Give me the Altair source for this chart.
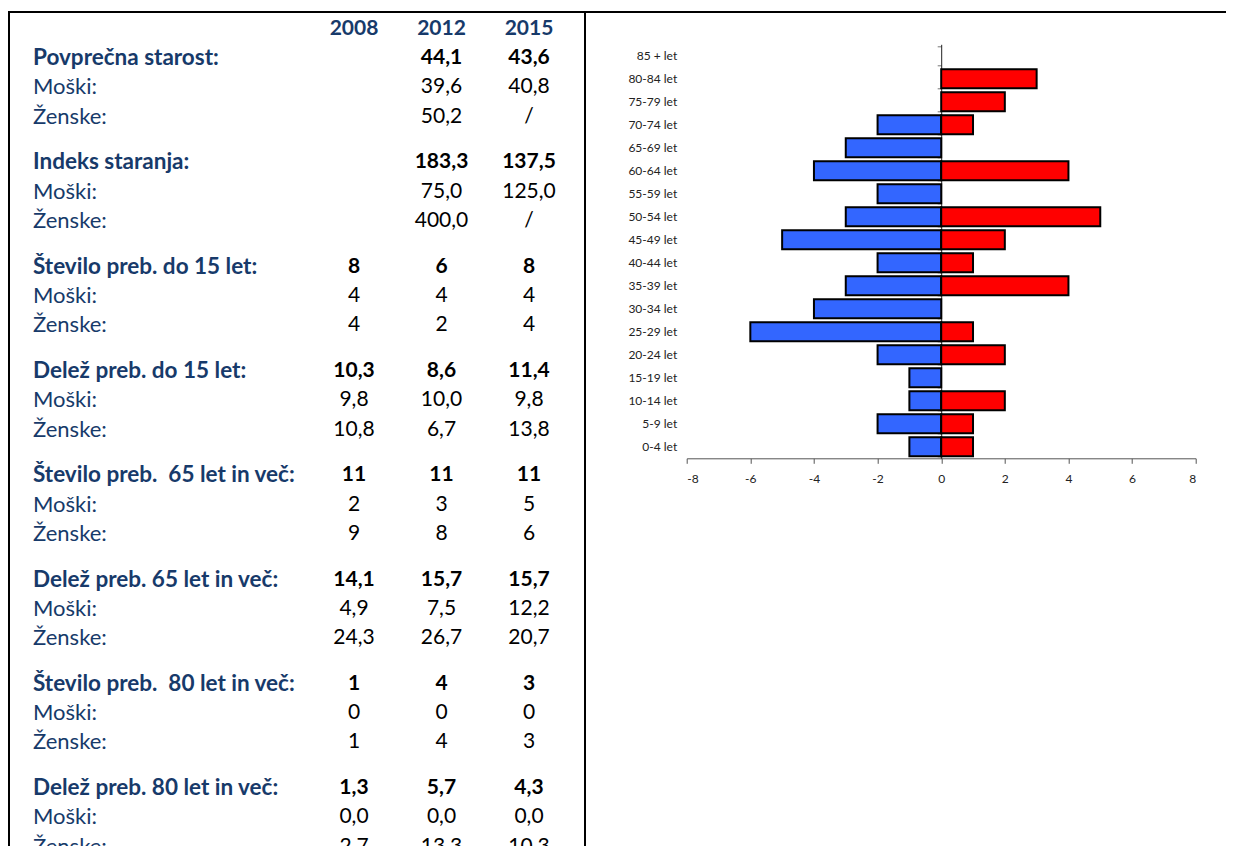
import altair as alt
import pandas as pd

# ---------------- table data ----------------
years = ["2008", "2012", "2015"]
group_titles = [
    "Povprečna starost:",
    "Indeks staranja:",
    "Število preb. do 15 let:",
    "Delež preb. do 15 let:",
    "Število preb.\u00a0 65 let in več:",
    "Delež preb. 65 let in več:",
    "Število preb.\u00a0 80 let in več:",
    "Delež preb. 80 let in več:",
]
sub_labels = ["Moški:", "Ženske:"]

v2008 = ["", "", "", "", "", "", "8", "4", "4", "10,3", "9,8", "10,8",
         "11", "2", "9", "14,1", "4,9", "24,3", "1", "0", "1", "1,3", "0,0", "2,7"]
v2012 = ["44,1", "39,6", "50,2", "183,3", "75,0", "400,0", "6", "4", "2", "8,6", "10,0", "6,7",
         "11", "3", "8", "15,7", "7,5", "26,7", "4", "0", "4", "5,7", "0,0", "13,3"]
v2015 = ["43,6", "40,8", "/", "137,5", "125,0", "/", "8", "4", "4", "11,4", "9,8", "13,8",
         "11", "5", "6", "15,7", "12,2", "20,7", "3", "0", "3", "4,3", "0,0", "10,3"]

# ---------------- pyramid data ----------------
ages = ["0-4 let", "5-9 let", "10-14 let", "15-19 let", "20-24 let", "25-29 let",
        "30-34 let", "35-39 let", "40-44 let", "45-49 let", "50-54 let", "55-59 let",
        "60-64 let", "65-69 let", "70-74 let", "75-79 let", "80-84 let", "85 + let"]
men = [1, 2, 1, 1, 2, 6, 4, 3, 2, 5, 3, 2, 4, 3, 2, 0, 0, 0]
women = [1, 1, 2, 0, 2, 1, 0, 4, 1, 2, 5, 0, 4, 0, 1, 2, 3, 0]

# ---------------- build tables ----------------
GROUP_STEP = 3.56  # rows per group incl. spacer row
label_rows, cell_rows = [], []
for g, title in enumerate(group_titles):
    for r in range(3):
        pos = g * GROUP_STEP + r
        label_rows.append({"label": title if r == 0 else sub_labels[r - 1],
                           "bold": r == 0, "pos": pos})
        i = g * 3 + r
        for yr, vals in zip(years, (v2008, v2012, v2015)):
            if vals[i] != "":
                cell_rows.append({"year": yr, "value": vals[i], "bold": r == 0, "pos": pos})
label_df = pd.DataFrame(label_rows)
cell_df = pd.DataFrame(cell_rows)
header_df = pd.DataFrame({"year": years, "pos": [-1] * len(years)})

pyr_rows = []
for a, m, w in zip(ages, men, women):
    pyr_rows.append({"age": a, "sex": "Moški", "count": m, "value": -m})
    pyr_rows.append({"age": a, "sex": "Ženske", "count": w, "value": w})
pyr_df = pd.DataFrame(pyr_rows)

BLUE = "#173A6A"
FONT = "Lato"
FS = 21

y_tab = alt.Y("pos:Q", scale=alt.Scale(domain=[-1, 27], range=[-15.6, 804.8], zero=False, nice=False), axis=None)
x_yr = alt.X("year:N", scale=alt.Scale(type="point", domain=years, range=[-332.7, -157.7], padding=0), axis=None)

lab_bold = alt.Chart(label_df).transform_filter("datum.bold").mark_text(
    align="left", baseline="middle", font=FONT, fontSize=22.5, fontWeight="bold", color=BLUE
).encode(x=alt.value(-653.7), y=y_tab, text="label:N")
lab_reg = alt.Chart(label_df).transform_filter("!datum.bold").mark_text(
    align="left", baseline="middle", font=FONT, fontSize=22, color=BLUE
).encode(x=alt.value(-653.7), y=y_tab, text="label:N")
num_bold = alt.Chart(cell_df).transform_filter("datum.bold").mark_text(
    align="center", baseline="middle", font=FONT, fontSize=FS, fontWeight="bold", color="#000"
).encode(x=x_yr, y=y_tab, text="value:N")
num_reg = alt.Chart(cell_df).transform_filter("!datum.bold").mark_text(
    align="center", baseline="middle", font=FONT, fontSize=FS, color="#000"
).encode(x=x_yr, y=y_tab, text="value:N")
header = alt.Chart(header_df).mark_text(
    align="center", baseline="middle", font=FONT, fontSize=FS, fontWeight="bold", color=BLUE
).encode(x=x_yr, y=y_tab, text="year:N")

one = alt.Data(values=[{}])
left_border = alt.Chart(one).mark_rule(color="black", strokeWidth=2).encode(
    x=alt.value(-677.7), y=alt.value(-32.3), y2=alt.value(900))
top_border = alt.Chart(one).mark_rule(color="black", strokeWidth=2).encode(
    x=alt.value(-678.7), x2=alt.value(545), y=alt.value(-32.3))
divider = alt.Chart(one).mark_rule(color="black", strokeWidth=2).encode(
    x=alt.value(-101.7), y=alt.value(-32.3), y2=alt.value(900))

ages_top_down = ages[::-1]
x_scale = alt.Scale(domain=[-8, 8], nice=False)
y_scale = alt.Scale(domain=ages_top_down, paddingInner=0.17, paddingOuter=0.085)

bars = alt.Chart(pyr_df).transform_filter("datum.count > 0").mark_bar(
    stroke="black", strokeWidth=2
).encode(
    x=alt.X("value:Q", scale=x_scale,
            axis=alt.Axis(values=list(range(-8, 9, 2)), grid=False, title=None, tickSize=5,
                          labelExpr="'' + datum.value", labelFontSize=12, labelFont=FONT,
                          labelColor="#222", domainColor="#555", tickColor="#555", labelPadding=10)),
    x2=alt.datum(0),
    y=alt.Y("age:N", scale=y_scale,
            axis=alt.Axis(orient="left", title=None, ticks=False, domain=False, labelPadding=10,
                          labelFontSize=12, labelFont=FONT, labelColor="#222")),
    color=alt.Color("sex:N", scale=alt.Scale(domain=["Moški", "Ženske"], range=["#3366FF", "#FF0000"]),
                    legend=None),
)

zero_axis = alt.Chart(pyr_df).mark_bar(opacity=0).encode(
    x=alt.X("value:Q", scale=x_scale, axis=None),
    x2=alt.datum(0),
    y=alt.Y("age:N", scale=y_scale,
            axis=alt.Axis(orient="left", offset=-254.5, labels=False, ticks=True, tickBand="extent",
                          tickSize=4, domain=True, domainColor="#222", tickColor="#777", title=None)),
)

chart = alt.layer(
    left_border, top_border, divider,
    header, lab_bold, lab_reg, num_bold, num_reg,
    zero_axis, bars,
).resolve_scale(x="independent", y="independent").resolve_axis(x="independent", y="independent").properties(
    width=509, height=414,
    padding={"left": 678.7, "top": 36.3, "right": 30.3, "bottom": 387.7},
    autosize=alt.AutoSizeParams(type="none"),
    background="white",
).configure_view(stroke=None)

chart.save("out.html", embed_options={"renderer": "svg", "actions": False})
